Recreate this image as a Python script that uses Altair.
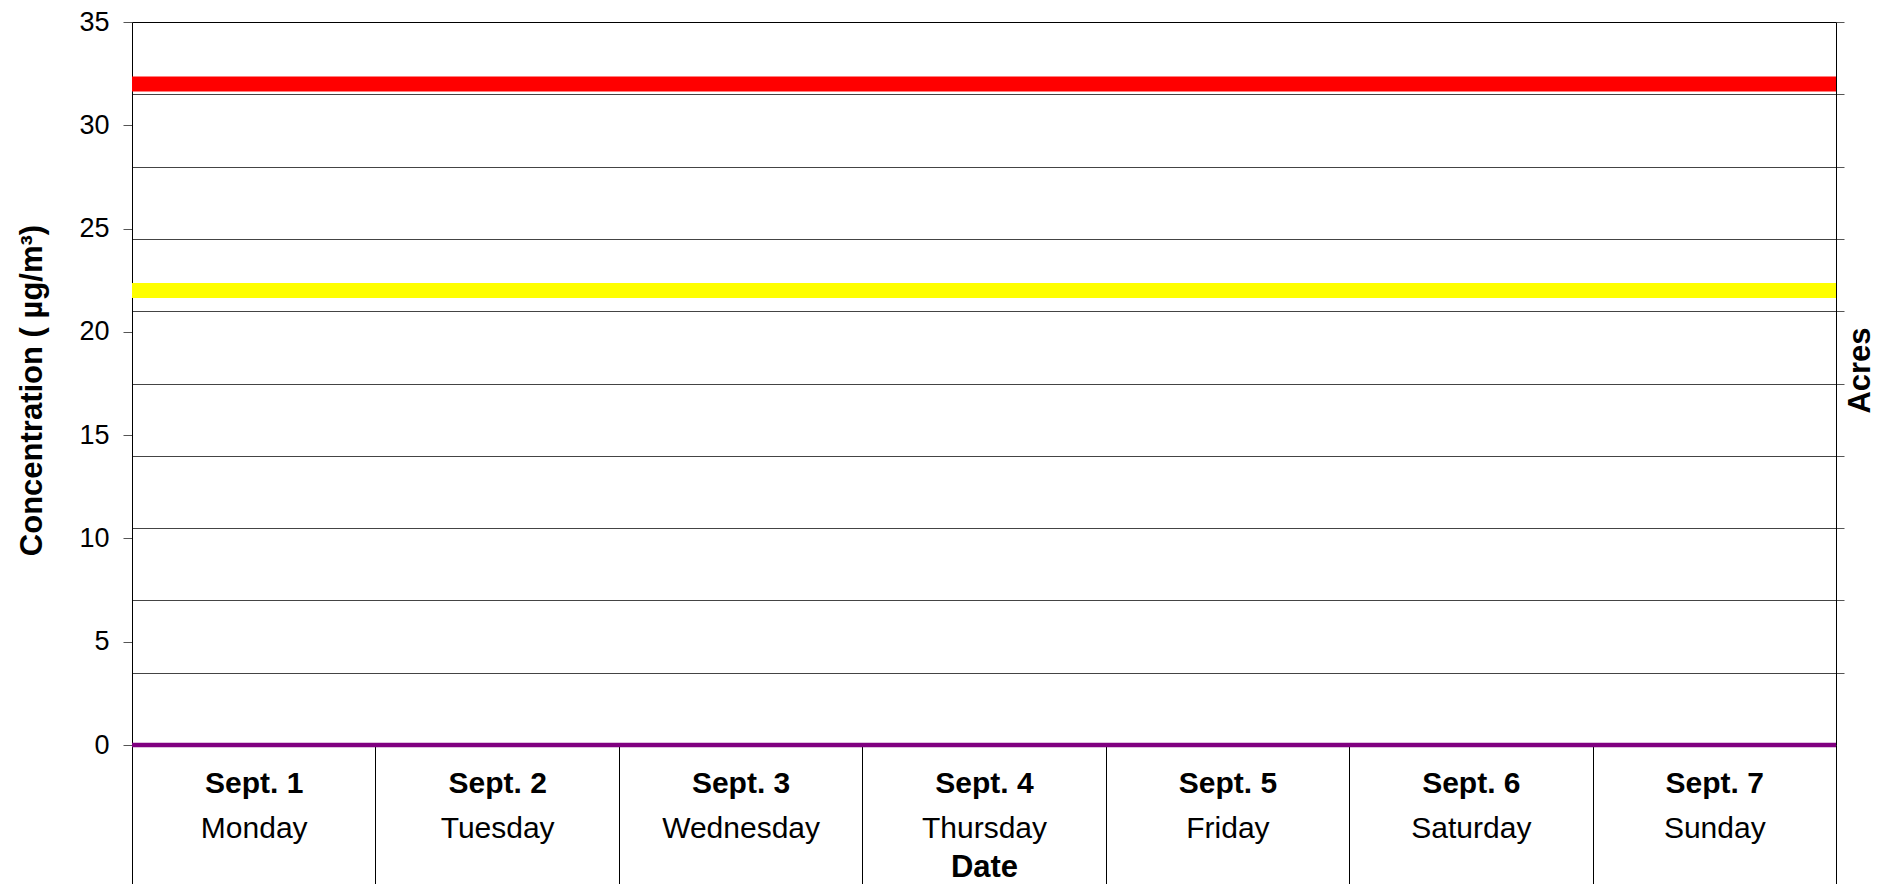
import altair as alt
import pandas as pd

# ---- data ----
dates = ["Sept. 1", "Sept. 2", "Sept. 3", "Sept. 4", "Sept. 5", "Sept. 6", "Sept. 7"]
days = ["Monday", "Tuesday", "Wednesday", "Thursday", "Friday", "Saturday", "Sunday"]
red_values = [32, 32, 32, 32, 32, 32, 32]
yellow_values = [22, 22, 22, 22, 22, 22, 22]
purple_values = [0, 0, 0, 0, 0, 0, 0]
left_ticks = [0, 5, 10, 15, 20, 25, 30, 35]
right_ticks = [3.5, 7, 10.5, 14, 17.5, 21, 24.5, 28, 31.5, 35]

rows = []
for name, vals in (("red", red_values), ("yellow", yellow_values), ("purple", purple_values)):
    for i, v in enumerate(vals):
        rows.append({"series": name, "start": i, "end": i + 1, "date": dates[i], "value": v})
df = pd.DataFrame(rows)

n = len(dates)
x_scale = alt.Scale(domain=[0, n], nice=False, zero=False)
y_scale = alt.Scale(domain=[0, 35], nice=False, zero=True)


def js_list(items):
    return "[" + ",".join("'" + s + "'" for s in items) + "]"


FONT = "Liberation Sans"

axis_x_bounds = alt.Axis(
    orient="bottom", values=list(range(n + 1)), labels=False, ticks=True, tickSize=145,
    tickColor="black", tickWidth=1, domain=True, domainColor="black", grid=False, title=None,
)
axis_x_dates = alt.Axis(
    orient="bottom", values=[i + 0.5 for i in range(n)],
    labelExpr=js_list(dates) + "[floor(datum.value)]",
    ticks=False, tickSize=0, domain=False, grid=False, title=None,
    labelFont=FONT, labelFontSize=30, labelFontWeight="bold", labelColor="black",
    labelBaseline="middle", labelAlign="center", labelPadding=38,
    labelOverlap=False, labelBound=False, labelFlush=False,
)
axis_x_days = alt.Axis(
    orient="bottom", values=[i + 0.5 for i in range(n)],
    labelExpr=js_list(days) + "[floor(datum.value)]",
    ticks=False, tickSize=0, domain=False, grid=False,
    labelFont=FONT, labelFontSize=30, labelFontWeight="normal", labelColor="black",
    labelBaseline="middle", labelAlign="center", labelPadding=83,
    labelOverlap=False, labelBound=False, labelFlush=False,
    title="Date", titleFont=FONT, titleFontSize=31, titleFontWeight="bold", titleColor="black",
    titleBaseline="middle", titleAlign="center", titleY=122, titleAnchor="middle",
)

axis_y_left = alt.Axis(
    orient="left", values=left_ticks, tickSize=9, tickColor="#555555", tickWidth=1,
    domain=True, domainColor="black", grid=False,
    labelFont=FONT, labelFontSize=27, labelColor="black", labelPadding=14,
    title="Concentration ( µg/m³)", titleFont=FONT, titleFontSize=31, titleFontWeight="bold",
    titleColor="black", titleAngle=270, titleBaseline="middle", titleAlign="center",
    titleX=-100, titleY=368,
)
axis_y_right = alt.Axis(
    orient="right", values=right_ticks, tickSize=8, tickColor="#555555", tickWidth=1,
    labels=False, domain=True, domainColor="black", grid=True,
    gridColor={"condition": {"test": "datum.value >= 35", "value": "black"}, "value": "#444444"},
    gridWidth=1,
    title="Acres", titleFont=FONT, titleFontSize=31, titleFontWeight="bold",
    titleColor="black", titleAngle=270, titleBaseline="middle", titleAlign="center",
    titleX=24, titleY=348,
)

base = alt.Chart(df)


def series_rule(name, color, width, x_axis, y_axis):
    return base.transform_filter(f"datum.series == '{name}'").transform_aggregate(
        start="min(start)", end="max(end)", value="mean(value)", groupby=["series"]
    ).mark_rule(color=color, strokeWidth=width, strokeCap="butt").encode(
        x=alt.X("start:Q", scale=x_scale, axis=x_axis),
        x2="end:Q",
        y=alt.Y("value:Q", scale=y_scale, axis=y_axis),
    )


yellow = series_rule("yellow", "#FFFF00", 15, axis_x_dates, axis_y_right)
red = series_rule("red", "#FF0000", 15, axis_x_bounds, axis_y_left)
purple = series_rule("purple", "#800080", 4.5, axis_x_days, None)

chart = alt.layer(yellow, red, purple).resolve_axis(
    x="independent", y="independent"
).properties(
    width=1704, height=723,
    padding={"left": 124, "top": 14, "right": 39, "bottom": 139},
    autosize=alt.AutoSizeParams(type="none"),
    background="white",
).configure_view(stroke="black", strokeWidth=1).configure(font=FONT)

chart.save("out.html", embed_options={"renderer": "svg", "actions": False})
